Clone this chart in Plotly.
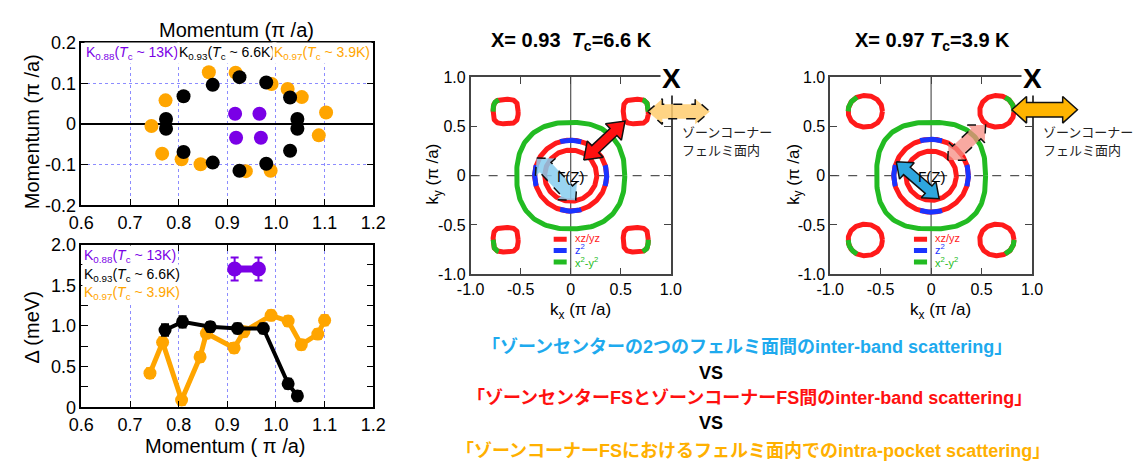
import numpy as np
import plotly.graph_objects as go

W, H = 1140, 470

# ---------------- Fermi momenta in the kx-ky plane (pi/a) ----------------
K088_KX = [0.916, 0.966, 0.918, 0.969]
K088_KY = [0.025, 0.025, -0.034, -0.034]

K093_KX = [0.774, 0.774, 0.810, 0.870, 0.925, 0.980, 1.029, 1.044, 1.044, 1.029, 0.980, 0.925, 0.870, 0.810]
K093_KY = [0.012, -0.012, 0.068, 0.096, 0.115, 0.102, 0.065, 0.012, -0.012, -0.066, -0.098, -0.115, -0.095, -0.069]

K097_KX = [0.862, 0.917, 0.991, 1.024, 1.053, 1.103, 1.088, 0.989, 0.938, 0.845, 0.806, 0.766, 0.744, 0.773]
K097_KY = [0.127, 0.126, 0.098, 0.086, 0.066, 0.028, -0.028, -0.115, -0.116, -0.099, -0.087, -0.073, -0.005, 0.058]

# ---------------- superconducting gap along the Fermi surface ----------------
GAP088_K = [0.915, 0.964]
GAP088 = [1.70, 1.70]
GAP088_ERR = [0.14, 0.14]

GAP093_K = [0.772, 0.808, 0.865, 0.921, 0.974, 1.025, 1.044]
GAP093 = [0.95, 1.05, 0.99, 0.97, 0.97, 0.29, 0.14]
GAP093_ERR = [0.07, 0.07, 0.06, 0.06, 0.06, 0.06, 0.06]

GAP097_K = [0.741, 0.767, 0.806, 0.844, 0.857, 0.914, 0.934, 0.990, 1.025, 1.052, 1.086, 1.100]
GAP097 = [0.42, 0.80, 0.09, 0.62, 0.91, 0.73, 0.93, 1.13, 1.06, 0.77, 0.90, 1.07]
GAP097_ERR = [0.06, 0.06, 0.06, 0.06, 0.06, 0.06, 0.06, 0.06, 0.06, 0.06, 0.06, 0.06]

# ---------------- tick labels ----------------
MOM_TICKS = [0.6, 0.7, 0.8, 0.9, 1.0, 1.1, 1.2]
MOM_TICKTEXT = ["0.6", "0.7", "0.8", "0.9", "1.0", "1.1", "1.2"]
KY_TICKS = [-0.2, -0.1, 0.0, 0.1, 0.2]
KY_TICKTEXT = ["-0.2", "-0.1", "0", "0.1", "0.2"]
GAP_TICKS = [0.0, 0.5, 1.0, 1.5, 2.0]
GAP_TICKTEXT = ["0", "0.5", "1.0", "1.5", "2.0"]
FS_TICKS = [-1.0, -0.5, 0.0, 0.5, 1.0]
FS_TICKTEXT = ["-1.0", "-0.5", "0", "0.5", "1.0"]

# ---------------- Fermi-surface sheets for x = 0.93 and x = 0.97 ----------------
FS_X = ["0.93", "0.97"]
FS_TC = ["6.6", "3.9"]
OUTER_R = [0.54, 0.54]        # x2-y2 sheet
OUTER_N = [2.4, 2.6]
MIDDLE_R = [0.36, 0.37]       # xz/yz + z2 sheet
INNER_R = [0.26, 0.25]        # xz/yz sheet
POCKET_C = [0.65, 0.652]      # zone-corner pocket centre
POCKET_AX = [0.125, 0.17]
POCKET_AY = [0.125, 0.16]
POCKET_N = [3.2, 2.1]
Z2_ARC_CENTERS = [0, 90, 180, 270]
Z2_ARC_HALF = 17
POCKET_GREEN_ARCS = {(-1, 1): (120, 180), (1, 1): (0, 60), (-1, -1): (180, 240), (1, -1): (300, 360)}

# scattering vectors (start, end) in pi/a
CENTER_VEC = [((-0.34, 0.18), (0.05, -0.25)), ((-0.345, 0.14), (0.08, -0.235))]
CORNER_VEC = [((0.13, 0.158), (0.543, 0.553)), ((0.165, 0.158), (0.54, 0.513))]
POCKET_VEC = [((0.77, 0.65), (1.39, 0.65)), ((0.80, 0.668), (1.45, 0.668))]

RED, BLUE, GREEN = "#ff1a1a", "#1a33ff", "#22bb22"
ORANGE, BLACK, PURPLE = "#ffa500", "#000000", "#7a00e6"
FONT = "Liberation Sans, Arial, sans-serif"
JP_FONT = "Liberation Sans, Noto Sans CJK JP, sans-serif"


def px_x(px):
    return px / W


def px_y(py):
    return 1 - py / H


def superellipse(cx, cy, ax, ay, n, t0, t1, num=200):
    t = np.radians(np.linspace(t0, t1, num))
    c, s = np.cos(t), np.sin(t)
    r = 1.0 / (np.abs(c / ax) ** n + np.abs(s / ay) ** n) ** (1.0 / n)
    return cx + r * c, cy + r * s


def block_arrow(p0, p1, shaft, head_w, head_len):
    p0, p1 = np.array(p0, float), np.array(p1, float)
    u = (p1 - p0) / np.linalg.norm(p1 - p0)
    nrm = np.array([-u[1], u[0]])
    a, b = p0 + u * head_len, p1 - u * head_len
    pts = [p0, a + nrm * head_w / 2, a + nrm * shaft / 2, b + nrm * shaft / 2, b + nrm * head_w / 2,
           p1, b - nrm * head_w / 2, b - nrm * shaft / 2, a - nrm * shaft / 2, a - nrm * head_w / 2, p0]
    pts = np.array(pts)
    return pts[:, 0], pts[:, 1]


fig = go.Figure()

# ---------------- panel: Fermi momenta ----------------
for kx, ky, col in [(K097_KX, K097_KY, ORANGE), (K093_KX, K093_KY, BLACK), (K088_KX, K088_KY, PURPLE)]:
    fig.add_trace(go.Scatter(x=kx, y=ky, mode="markers", xaxis="x", yaxis="y",
                             marker=dict(size=14, color=col, line=dict(width=0))))

# ---------------- panel: gap magnitude ----------------
for k, g, e, col, lw, ms in [(GAP097_K, GAP097, GAP097_ERR, ORANGE, 5, 13),
                             (GAP093_K, GAP093, GAP093_ERR, BLACK, 4, 13),
                             (GAP088_K, GAP088, GAP088_ERR, PURPLE, 7, 15)]:
    fig.add_trace(go.Scatter(x=k, y=g, mode="lines+markers", xaxis="x2", yaxis="y2",
                             line=dict(color=col, width=lw), marker=dict(size=ms, color=col),
                             error_y=dict(type="data", array=e, color=col, thickness=2, width=4)))

# ---------------- Fermi-surface panels ----------------
fs_axes = [("x3", "y3", "x5", "y5"), ("x4", "y4", "x6", "y6")]
for i, (xa, ya, xo, yo) in enumerate(fs_axes):
    def line(xs, ys, col, w=5, ax=xa, ay=ya):
        fig.add_trace(go.Scatter(x=xs, y=ys, mode="lines", xaxis=ax, yaxis=ay,
                                 line=dict(color=col, width=w), hoverinfo="skip"))

    # x2-y2 outer sheet
    xs, ys = superellipse(0, 0, OUTER_R[i], OUTER_R[i], OUTER_N[i], 0, 360)
    line(xs, ys, GREEN)
    # inner xz/yz sheet
    xs, ys = superellipse(0, 0, INNER_R[i], INNER_R[i], 2, 0, 360)
    line(xs, ys, RED)
    # middle sheet with z2 character along the axes
    xs, ys = superellipse(0, 0, MIDDLE_R[i], MIDDLE_R[i], 2, 0, 360)
    line(xs, ys, RED)
    for c in Z2_ARC_CENTERS:
        xs, ys = superellipse(0, 0, MIDDLE_R[i], MIDDLE_R[i], 2, c - Z2_ARC_HALF, c + Z2_ARC_HALF, 40)
        line(xs, ys, BLUE)
    # zone-corner pockets
    for (sx, sy), (g0, g1) in POCKET_GREEN_ARCS.items():
        cx, cy = sx * POCKET_C[i], sy * POCKET_C[i]
        xs, ys = superellipse(cx, cy, POCKET_AX[i], POCKET_AY[i], POCKET_N[i], 0, 360)
        line(xs, ys, RED)
        xs, ys = superellipse(cx, cy, POCKET_AX[i], POCKET_AY[i], POCKET_N[i], g0, g1, 60)
        line(xs, ys, GREEN)
    # orbital legend
    for yy, col in zip([-0.645, -0.76, -0.875], [RED, BLUE, GREEN]):
        line([-0.17, -0.04], [yy, yy], col)

    # scattering arrows
    if i == 0:
        specs = [(CENTER_VEC[0], 0.15, 0.27, 0.13, "rgba(135,205,238,0.85)", "dash"),
                 (CORNER_VEC[0], 0.10, 0.23, 0.16, "#ff1010", "solid"),
                 (POCKET_VEC[0], 0.146, 0.26, 0.146, "rgba(255,205,110,0.85)", "dash")]
    else:
        specs = [(CENTER_VEC[1], 0.10, 0.22, 0.14, "#2ea6de", "solid"),
                 (CORNER_VEC[1], 0.14, 0.25, 0.13, "rgba(245,140,130,0.75)", "dash"),
                 (POCKET_VEC[1], 0.146, 0.27, 0.146, "#ffb400", "solid")]
    for (p0, p1), sw, hw, hl, fc, dash in specs:
        ax_, ay_ = block_arrow(p0, p1, sw, hw, hl)
        fig.add_trace(go.Scatter(x=ax_, y=ay_, mode="lines", fill="toself", fillcolor=fc,
                                 xaxis=xo, yaxis=yo, hoverinfo="skip",
                                 line=dict(color="#111111", width=1.5, dash=dash)))

# ---------------- axes ----------------
tick_common = dict(ticks="inside", ticklen=7, tickwidth=1.3, tickcolor="black", showline=True,
                   linecolor="black", linewidth=1.5, mirror="ticks", zeroline=False)
grid_common = dict(showgrid=True, gridcolor="#8c8cff", griddash="dot", gridwidth=1)

LX0, LX1 = px_x(69), px_x(368)
layout = dict(
    width=W, height=H, margin=dict(l=0, r=0, t=0, b=0),
    paper_bgcolor="white", plot_bgcolor="rgba(0,0,0,0)", showlegend=False,
    font=dict(family=FONT, color="black"),
    xaxis=dict(domain=[LX0, LX1], range=[0.6, 1.2], anchor="y", tickvals=MOM_TICKS, ticktext=MOM_TICKTEXT,
               tickfont=dict(size=18), **tick_common, **grid_common),
    yaxis=dict(domain=[px_y(204), px_y(34)], range=[-0.2, 0.2], anchor="x", tickvals=KY_TICKS,
               ticktext=KY_TICKTEXT, tickfont=dict(size=18), **{**tick_common, "zeroline": True},
               zerolinecolor="black", zerolinewidth=1.5, **grid_common),
    xaxis2=dict(domain=[LX0, LX1], range=[0.6, 1.2], anchor="y2", tickvals=MOM_TICKS, ticktext=MOM_TICKTEXT,
                tickfont=dict(size=18), **tick_common, **grid_common),
    yaxis2=dict(domain=[px_y(415), px_y(245)], range=[0, 2], anchor="x2", tickvals=GAP_TICKS,
                ticktext=GAP_TICKTEXT, tickfont=dict(size=18), showgrid=False,
                minor=dict(dtick=0.25, ticks="inside", ticklen=7, tickcolor="black", showgrid=False),
                **tick_common),
)

fs_common = dict(range=[-1, 1], tickvals=FS_TICKS, ticktext=FS_TICKTEXT, tickfont=dict(size=16),
                 showgrid=False, ticks="inside", ticklen=7, tickwidth=1.2, tickcolor="#444",
                 showline=True, linecolor="#444", linewidth=1.5, mirror="ticks", zeroline=False)
FS_LEFT = [467.7, 836.0]
FS_RIGHT = [672.7, 1042.7]
FS_OVER_RIGHT = [770.0, 1139.0]
for i, (xa, ya, xo, yo) in enumerate(fs_axes):
    n_main, n_over = xa[1:], xo[1:]
    ydom = [px_y(276), px_y(70)]
    layout["xaxis" + n_main] = dict(domain=[px_x(FS_LEFT[i]), px_x(FS_RIGHT[i])], anchor=ya, **fs_common)
    layout["yaxis" + n_main] = dict(domain=ydom, anchor=xa, **fs_common)
    span = (FS_OVER_RIGHT[i] - FS_LEFT[i]) / (FS_RIGHT[i] - FS_LEFT[i])
    layout["xaxis" + n_over] = dict(domain=[px_x(FS_LEFT[i]), px_x(FS_OVER_RIGHT[i])],
                                    range=[-1, -1 + 2 * span], anchor=yo, visible=False)
    layout["yaxis" + n_over] = dict(domain=ydom, range=[-1, 1], anchor=xo, visible=False)

fig.update_layout(**layout)

# zero lines of the k-space maps
for xa, ya, _, _ in fs_axes:
    fig.add_shape(type="line", xref=xa, yref=ya, x0=0, x1=0, y0=-1, y1=1,
                  line=dict(color="#555", width=1.2), layer="below")
    fig.add_shape(type="line", xref=xa, yref=ya, x0=-1, x1=1, y0=0, y1=0,
                  line=dict(color="#555", width=1.2, dash="dash"), layer="below")

# ---------------- text ----------------
ann = []


def text(px, py, s, size, color="black", family=FONT, xanchor="center", angle=0, bg=None, **kw):
    d = dict(x=px_x(px), y=px_y(py), xref="paper", yref="paper", text=s, showarrow=False,
             font=dict(size=size, color=color, family=family), xanchor=xanchor, yanchor="middle",
             textangle=angle, align=xanchor if xanchor in ("left", "right") else "center")
    if bg:
        d.update(bgcolor=bg, borderpad=1)
    d.update(kw)
    ann.append(d)


LEG = ["K<sub>0.88</sub>(<i>T</i><sub>c</sub> ~ 13K)",
       "K<sub>0.93</sub>(<i>T</i><sub>c</sub> ~ 6.6K)",
       "K<sub>0.97</sub>(<i>T</i><sub>c</sub> ~ 3.9K)"]
LEG_COL = [PURPLE, BLACK, ORANGE]

text(228, 21, "Momentum (π /a)", 20)
text(18, 127, "Momentum (π /a)", 20, angle=-90)
for px, s, c in zip([72, 167, 264], LEG, LEG_COL):
    text(px, 45, s, 14, color=c, xanchor="left", bg="white")

text(18, 332, "Δ (meV)", 20, angle=-90)
text(217, 455, "Momentum ( π /a)", 20)
for py, s, c in zip([257, 277, 296], LEG, LEG_COL):
    text(70, py, s, 14, color=c, xanchor="left", bg="white")

# k-space panels
FS_CX = [570.2, 939.3]
for i in range(2):
    cx = FS_CX[i]
    gap = "&nbsp; " if i == 0 else " "
    text(cx + 1, 33, f"<b>X= {FS_X[i]}{gap}<i>T</i><sub>c</sub>={FS_TC[i]} K</b>", 20)
    text(FS_CX[i] - 140, 172, "k<sub>y</sub> (π /a)", 17, angle=-90)
    text(cx + 10, 314, "k<sub>x</sub> (π /a)", 17)
    text(FS_RIGHT[i] + 1, 72, "<b>X</b>", 28, bg="white")
    text(cx, 174, "Γ(Z)", 15)
    for py, s, c in zip([238, 250, 263], ["xz/yz", "z<sup>2</sup>", "x<sup>2</sup>-y<sup>2</sup>"], [RED, BLUE, GREEN]):
        text(cx + 2, py, s, 11, color=c, xanchor="left")
    text(FS_RIGHT[i] + 9, 128, "ゾーンコーナー", 13, color="#222", family=JP_FONT, xanchor="left")
    text(FS_RIGHT[i] + 9, 147, "フェルミ面内", 13, color="#222", family=JP_FONT, xanchor="left")

# summary of the competing scattering channels
text(751, 352, "<b>「ゾーンセンターの2つのフェルミ面間のinter-band scattering」</b>", 18, color="#1eaaee", family=JP_FONT)
text(714, 379, "<b>VS</b>", 18, family=JP_FONT)
text(753, 405, "<b>「ゾーンセンターFSとゾーンコーナーFS間のinter-band scattering」</b>", 18, color="#ff1010", family=JP_FONT)
text(714, 431, "<b>VS</b>", 18, family=JP_FONT)
text(757, 461, "<b>「ゾーンコーナーFSにおけるフェルミ面内でのintra-pocket scattering」</b>", 18, color="#ffb000", family=JP_FONT)

fig.update_layout(annotations=ann)
fig.write_html("out.html")
